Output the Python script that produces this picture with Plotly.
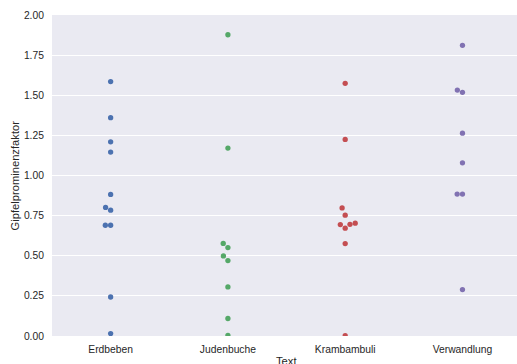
import numpy as np
import plotly.graph_objects as go

# ---- data ----
categories = ["Erdbeben", "Judenbuche", "Krambambuli", "Verwandlung"]
erdbeben = [1.585, 1.360, 1.210, 1.146, 0.882, 0.801, 0.784, 0.690, 0.690, 0.243, 0.015]
judenbuche = [1.877, 1.171, 0.577, 0.551, 0.499, 0.470, 0.306, 0.109, 0.004]
krambambuli = [1.574, 1.225, 0.798, 0.753, 0.694, 0.672, 0.696, 0.703, 0.576, 0.002]
verwandlung = [1.811, 1.532, 1.518, 1.264, 1.079, 0.884, 0.884, 0.289]
series = [erdbeben, judenbuche, krambambuli, verwandlung]
colors = ["#4C72B0", "#55A868", "#C44E52", "#8172B2"]
y_ticks = [0, 0.25, 0.5, 0.75, 1.0, 1.25, 1.5, 1.75, 2.0]

# ---- layout geometry ----
W, H = 517, 364
ML, MR, MT, MB = 52, 0, 15, 28
X_RANGE = [-0.5, 3.465]
PX_PER_CAT = (W - ML - MR) / (X_RANGE[1] - X_RANGE[0])
SWARM_Y_SCALE = 91.4   # px per value unit used for the swarm layout
RADIUS = 2.525         # px


def swarm_offsets(values, y_scale=SWARM_Y_SCALE, r=RADIUS):
    """Seaborn-like beeswarm: returns horizontal offsets (px) per point."""
    y = np.asarray(values, float) * y_scale
    order = np.argsort(y, kind="stable")
    ys = y[order]
    placed = []
    res = np.zeros(len(ys))
    for k, yi in enumerate(ys):
        if not placed:
            placed.append((0.0, yi))
            continue
        neigh = []
        for xj, yj in reversed(placed):
            if yi - yj < 2 * r:
                neigh.append((xj, yj))
            else:
                break
        neigh = neigh[::-1]
        cands = [0.0]
        left_first = True
        for xj, yj in neigh:
            dy = yi - yj
            dx = np.sqrt(max((2 * r) ** 2 - dy ** 2, 0)) * 1.05
            cands += [xj - dx, xj + dx] if left_first else [xj + dx, xj - dx]
            left_first = not left_first
        cands = np.array(cands)
        cands = cands[np.argsort(np.abs(cands), kind="stable")]
        chosen = cands[-1]
        for c in cands:
            if all((c - xj) ** 2 + (yi - yj) ** 2 >= (2 * r) ** 2 for xj, yj in neigh):
                chosen = c
                break
        placed.append((chosen, yi))
        res[k] = chosen
    out = np.zeros(len(ys))
    out[order] = res
    return out


fig = go.Figure()
for i, (cat, vals, col) in enumerate(zip(categories, series, colors)):
    offs = swarm_offsets(vals) / PX_PER_CAT
    fig.add_trace(go.Scatter(
        x=i + offs, y=vals, mode="markers",
        marker=dict(color=col, size=5.3, line=dict(width=0)),
        name=cat, showlegend=False, hoverinfo="y",
    ))

font_family = "Liberation Sans, Arial, sans-serif"
fig.update_layout(
    width=W, height=H,
    margin=dict(l=ML, r=MR, t=MT, b=MB, pad=0),
    paper_bgcolor="white",
    plot_bgcolor="#EAEAF2",
    font=dict(family=font_family, size=10.3, color="#262626"),
    xaxis=dict(
        range=X_RANGE, tickmode="array", tickvals=list(range(len(categories))),
        ticktext=categories, showgrid=False, zeroline=False, showline=False,
        ticks="outside", ticklen=4, tickcolor="rgba(0,0,0,0)",
        tickfont=dict(size=10.3, color="#262626"), automargin=False,
    ),
    yaxis=dict(
        range=[0, 2], tickmode="array", tickvals=y_ticks,
        ticktext=[f"{v:.2f}" for v in y_ticks],
        showgrid=True, gridcolor="white", gridwidth=1, zeroline=False,
        showline=False, ticks="outside", ticklen=5, tickcolor="rgba(0,0,0,0)",
        tickfont=dict(size=10.3, color="#262626"), automargin=False,
    ),
    annotations=[
        dict(text="Text", xref="x", yref="paper", x=1.5, y=0,
             xanchor="center", yanchor="middle", yshift=-25, showarrow=False,
             font=dict(size=11.2, color="#262626")),
        dict(text="Gipfelprominenzfaktor", xref="paper", yref="paper", x=0, y=0.5,
             xanchor="center", yanchor="middle", xshift=-38, textangle=-90,
             showarrow=False, font=dict(size=11.2, color="#262626")),
    ],
)

fig.write_html(
    "out.html",
    config={"displayModeBar": False},
    post_script="document.body.style.margin='0';document.body.style.overflow='hidden';",
)
